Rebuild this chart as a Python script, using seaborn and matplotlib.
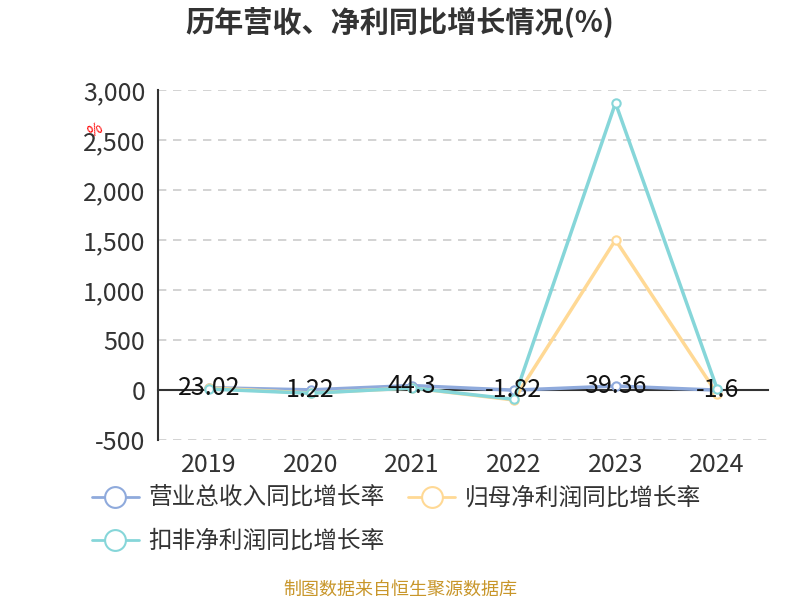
import matplotlib
matplotlib.use("Agg")
import matplotlib.pyplot as plt
from matplotlib.lines import Line2D
import seaborn as sns
import pandas as pd

years = ["2019", "2020", "2021", "2022", "2023", "2024"]
revenue_growth = [23.02, 1.22, 44.3, -1.82, 39.36, -1.6]
parent_profit_growth = [20, -30, 20, -100, 1500, -40]
deducted_profit_growth = [10, -33, 20, -93, 2870, 10]
series_names = ["营业总收入同比增长率", "归母净利润同比增长率", "扣非净利润同比增长率"]
colors = ["#8faadc", "#ffd995", "#86d6d9"]

sns.set_style("white")
plt.rcParams['font.family'] = ['Noto Sans CJK SC', 'DejaVu Sans']

fig = plt.figure(figsize=(8, 6), dpi=100)
ax = fig.add_axes([0.1975, 0.2667, 0.7625, 0.5833])

x = list(range(len(years)))
all_series = [revenue_growth, parent_profit_growth, deducted_profit_growth]
for i, (name, vals) in enumerate(zip(series_names, all_series)):
    df = pd.DataFrame({"x": x, "v": vals})
    sns.lineplot(data=df, x="x", y="v", ax=ax, color=colors[i], linewidth=2.5,
                 marker="o", markersize=6, markerfacecolor="white",
                 markeredgecolor=colors[i], markeredgewidth=1.5, zorder=3 + i)

for xi, v in zip(x, revenue_growth):
    ax.text(xi, v, f"{v:g}", ha="center", va="center", fontsize=18, color="#111111", zorder=10)

ax.set_xlim(-0.5, 5.5)
ax.set_ylim(-500, 3000)
ax.set_yticks(range(-500, 3001, 500))
ax.set_yticklabels([f"{t:,}" for t in range(-500, 3001, 500)])
ax.yaxis.grid(True, linestyle=(0, (5, 4)), color="#cccccc", linewidth=1.2)
ax.set_axisbelow(True)

ax.spines["top"].set_visible(False)
ax.spines["right"].set_visible(False)
ax.spines["bottom"].set_position(("data", 0))
ax.spines["left"].set_color("#333333")
ax.spines["bottom"].set_color("#333333")
ax.spines["left"].set_linewidth(1.5)
ax.spines["bottom"].set_linewidth(1.5)

ax.set_xticks(x)
ax.set_xticklabels(years)
ax.set_xticks([i + 0.5 for i in range(-1, 6)], minor=True)
ax.tick_params(axis="x", which="major", length=0, pad=45, labelsize=18, labelcolor="#333333")
ax.tick_params(axis="x", which="minor", length=6, width=1.5, color="#333333", direction="out")
ax.tick_params(axis="y", length=5, width=1.5, color="#333333", labelsize=18, labelcolor="#333333", pad=4)
ax.set_xlabel("")
ax.set_ylabel("")

fig.text(0.5, 0.962, "历年营收、净利同比增长情况(%)", ha="center", va="center",
         fontsize=21, fontweight="bold", color="#333333")
fig.text(0.119, 0.782, "%", color="red", fontsize=11, rotation=30, ha="center", va="center")
fig.text(0.5, 0.018, "制图数据来自恒生聚源数据库", ha="center", va="center",
         fontsize=13, color="#c8962a")

handles = [Line2D([0], [0], color=c, linewidth=2, marker="o", markersize=15,
                  markerfacecolor="white", markeredgecolor=c, markeredgewidth=1.5)
           for c in colors]
order = [0, 2, 1]
fig.legend([handles[i] for i in order], [series_names[i] for i in order],
           loc="upper left", bbox_to_anchor=(0.088, 0.224),
           ncol=2, frameon=False, fontsize=17, handlelength=2.0, handletextpad=0.4,
           columnspacing=1.0, labelspacing=0.85, labelcolor="#333333")

fig.savefig("out.png", dpi=100)
